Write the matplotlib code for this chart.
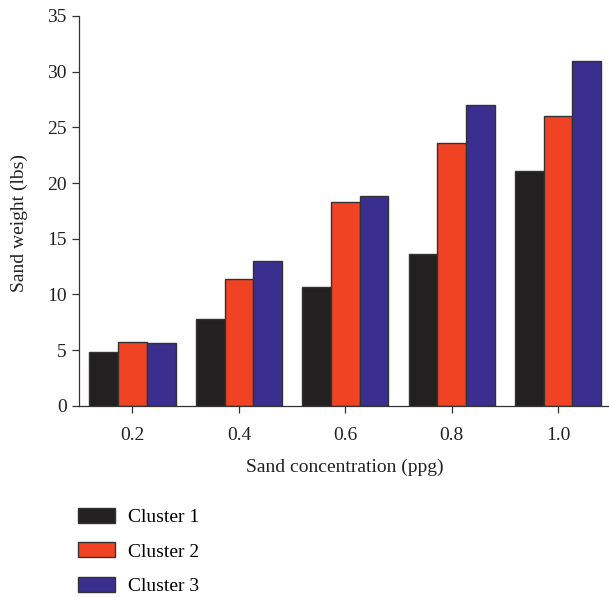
import matplotlib

matplotlib.use("Agg")
import matplotlib.pyplot as plt
import numpy as np

plt.rcParams["font.family"] = ["Liberation Serif", "DejaVu Serif"]

# data
concentrations = ["0.2", "0.4", "0.6", "0.8", "1.0"]
cluster_1 = [4.85, 7.75, 10.7, 13.6, 21.1]
cluster_2 = [5.75, 11.4, 18.3, 23.6, 26.05]
cluster_3 = [5.6, 13.0, 18.85, 27.0, 30.95]
series_labels = ["Cluster 1", "Cluster 2", "Cluster 3"]
colors = ["#222020", "#f04323", "#3a2e8f"]

FS = 14

fig = plt.figure(figsize=(6.09, 5.97), dpi=100)
ax = fig.add_axes([0.1302, 0.3204, 0.8735, 0.6528])

x = np.arange(len(concentrations))
width = 0.27
for i, (vals, lab, col) in enumerate(zip([cluster_1, cluster_2, cluster_3], series_labels, colors)):
    ax.bar(x + (i - 1) * width, vals, width=width, color=col, edgecolor="#333333",
           linewidth=1.0, label=lab)

ax.set_xlim(-0.5, 4.5)
ax.set_ylim(0, 35)
ax.set_yticks(range(0, 36, 5))
ax.set_xticks(x)
ax.set_xticklabels(concentrations)
for side in ("top", "right"):
    ax.spines[side].set_visible(False)
for side in ("left", "bottom"):
    ax.spines[side].set_color("#333333")
    ax.spines[side].set_linewidth(0.9)
ax.tick_params(direction="out", length=5, width=0.9, color="#333333",
               labelsize=FS, labelcolor="#222222", pad=4)
ax.tick_params(axis="x", pad=10)

ax.set_xlabel("Sand concentration (ppg)", fontsize=FS, color="#222222", labelpad=11)
ax.set_ylabel("Sand weight (lbs)", fontsize=FS, color="#222222")
ax.yaxis.set_label_coords(-0.097, 0.47)

fig.legend(loc="upper left", bbox_to_anchor=(0.128, 1 - 508 / 597), frameon=False,
           fontsize=FS, handlelength=1.9, handleheight=0.82, labelspacing=0.82,
           handletextpad=0.68, borderpad=0, borderaxespad=0)

fig.savefig("out.png", dpi=100)
